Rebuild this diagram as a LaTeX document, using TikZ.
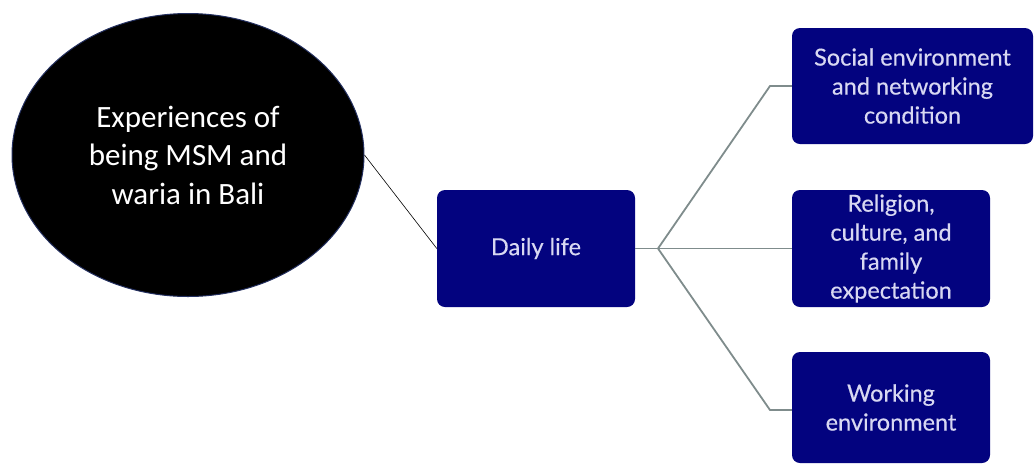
\documentclass[tikz,border=0pt]{standalone}
\usepackage{fontspec}
\setmainfont{Lato}
\newfontfamily\boxfont{Lato}[FakeBold=0.35]
\newfontfamily\ellfont{Carlito}
\usetikzlibrary{shapes.geometric}
\definecolor{boxnavy}{HTML}{03037F}
\definecolor{boxtext}{HTML}{D8D8F2}
\definecolor{linkgray}{HTML}{7F8C8C}
\definecolor{rimblue}{HTML}{243060}
\begin{document}
\begin{tikzpicture}[x=1pt,y=-1pt,
  topic/.style={fill=black,draw=rimblue,line width=1pt,ellipse,
    minimum width=352pt,minimum height=283pt,inner sep=0pt,
    text=white,align=center,font=\ellfont\fontsize{31}{38.5}\selectfont},
  themebox/.style={fill=boxnavy,draw=none,rounded corners=8pt,
    inner sep=0pt,text=boxtext,align=center,
    font=\boxfont\fontsize{23.5}{29}\selectfont},
  link/.style={draw=linkgray,line width=1.8pt},
  lead/.style={draw=black,line width=0.6pt}]
\useasboundingbox (0,0) rectangle (1034,467);
% central topic
\node[topic] (topic) at (188,155) {Experiences of\\being MSM and\\waria in Bali};
% main theme
\node[themebox,minimum width=198pt,minimum height=117pt] (daily) at (536,248.5) {Daily life};
% sub-themes
\node[themebox,minimum width=241pt,minimum height=116pt] (social) at (912.5,86) {Social environment\\and networking\\condition};
\node[themebox,minimum width=198pt,minimum height=117pt] (religion) at (891,248.5) {Religion,\\culture, and\\family\\expectation};
\node[themebox,minimum width=198pt,minimum height=111pt] (working) at (891,407.5) {Working\\environment};
% connectors
\draw[lead] (topic.east |- 0,155) -- (daily.west);
\coordinate (J) at (658,248.5);
\coordinate (E1) at (770,86);
\coordinate (E3) at (770,410);
\draw[link] (daily.east) -- (J);
\draw[link] (J) -- (E1) -- (social.west |- E1);
\draw[link] (J) -- (religion.west);
\draw[link] (J) -- (E3) -- (working.west |- E3);
\end{tikzpicture}
\end{document}
